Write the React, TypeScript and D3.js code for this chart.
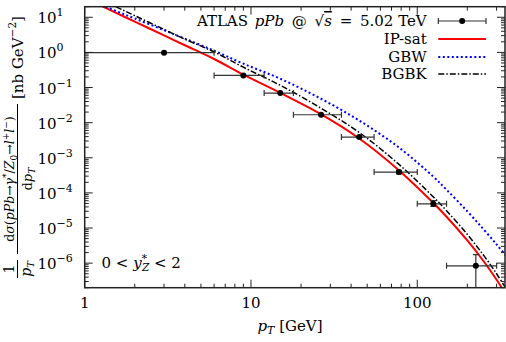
import React from "react";
import * as d3 from "d3";

const W = 506;
const H = 342;
const M = { left: 84.7, right: 505, top: 6.7, bottom: 287.7 };

const xDomain = [1, 337];
const yDomain = [2e-7, 20];

// ATLAS data
const dataPt = [3, 9, 15, 26.4, 44.8, 77.6, 124.8, 225];
const dataY = [0.98, 0.221, 0.0697, 0.0168, 0.00389, 3.91e-4, 4.89e-5, 8.38e-7];
const binLo = [0.5, 6, 12, 18, 35, 55, 100, 150];
const binHi = [6, 12, 18, 35, 55, 100, 150, 300];
const errLo = [0.98, 0.221, 0.0697, 0.0168, 0.0037, 3.5e-4, 4.1e-5, 1e-9];
const errHi = [0.98, 0.221, 0.0697, 0.0168, 0.0041, 4.4e-4, 6.07e-5, 1.74e-6];

// model curves
const curvePt = [1, 1.5, 2, 3, 4, 6, 9, 15, 26, 45, 78, 125, 150, 200, 250, 300, 340];
const ipsat = [35.2, 14.3, 7.5, 3.05, 1.6, 0.649, 0.232, 0.0706, 0.01804, 0.00348, 4.29e-4, 5.16e-5, 2.1e-5, 4.43e-6, 1.15e-6, 3.37e-7, 1.33e-7];
const gbw = [35.0, 15.9, 9.25, 4.29, 2.46, 1.12, 0.477, 0.178, 0.0496, 0.0113, 0.00193, 2.88e-4, 1.23e-4, 2.99e-5, 9.25e-6, 3.41e-6, 1.67e-6];
const bgbk = [52.2, 21.1, 11.1, 4.52, 2.38, 1.03, 0.379, 0.116, 0.0268, 0.00516, 6.36e-4, 7.64e-5, 3.11e-5, 6.57e-6, 1.7e-6, 4.99e-7, 1.98e-7];

const xMajor = [1, 10, 100];
const xMajorLabels = ["1", "10", "100"];
const yExps = [1, 0, -1, -2, -3, -4, -5, -6];

const FONT = "'DejaVu Serif', serif";

export default function App() {
  const x = d3.scaleLog().domain(xDomain).range([M.left, M.right]);
  const y = d3.scaleLog().domain(yDomain).range([M.bottom, M.top]);

  const mk = (vals: number[]) =>
    d3
      .line<number>()
      .x((_, i) => x(curvePt[i]))
      .y((d) => y(d))
      .curve(d3.curveCatmullRom.alpha(0.5))(vals) || "";

  // ticks
  const xTicks: { v: number; major: boolean }[] = [];
  for (let d = 0; d <= 2; d++) {
    for (let k = 1; k <= 9; k++) {
      const v = k * Math.pow(10, d);
      if (v >= xDomain[0] && v <= xDomain[1]) xTicks.push({ v, major: k === 1 });
    }
  }
  const yTicks: { v: number; major: boolean }[] = [];
  for (let d = -7; d <= 1; d++) {
    for (let k = 1; k <= 9; k++) {
      const v = k * Math.pow(10, d);
      if (v >= yDomain[0] && v <= yDomain[1]) yTicks.push({ v, major: k === 1 });
    }
  }

  const frame = "#222";
  const errC = "#333";
  const cap = 3;

  const legendRows = [21, 39, 57, 74];
  const lx0 = 438.3;
  const lx1 = 486;
  const ltx = 426.7;

  return (
    <svg
      width={W}
      height={H}
      style={{ position: "absolute", left: 0, top: 0, background: "#fff" }}
      fontFamily={FONT}
    >
      <defs>
        <clipPath id="plotclip">
          <rect x={M.left} y={M.top} width={M.right - M.left} height={M.bottom - M.top} />
        </clipPath>
      </defs>
      <rect x={0} y={0} width={W} height={H} fill="#fff" />

      {/* curves */}
      <g clipPath="url(#plotclip)" fill="none">
        <path d={mk(ipsat)} stroke="#ff0000" strokeWidth={2} />
        <path d={mk(gbw)} stroke="#0000ff" strokeWidth={2} strokeDasharray="2,2.5" />
        <path d={mk(bgbk)} stroke="#000" strokeWidth={1.5} strokeDasharray="6,2,1.5,2" />
      </g>

      {/* data */}
      <g clipPath="url(#plotclip)">
        {dataPt.map((p, i) => {
          const cx = x(p);
          const cy = y(dataY[i]);
          const xl = x(binLo[i]);
          const xh = x(binHi[i]);
          const yl = y(errLo[i]);
          const yh = y(errHi[i]);
          return (
            <g key={i} stroke={errC} strokeWidth={1.2}>
              <line x1={xl} x2={xh} y1={cy} y2={cy} />
              <line x1={xl} x2={xl} y1={cy - cap} y2={cy + cap} />
              <line x1={xh} x2={xh} y1={cy - cap} y2={cy + cap} />
              {Math.abs(yl - yh) > 1 && (
                <>
                  <line x1={cx} x2={cx} y1={yl} y2={yh} />
                  <line x1={cx - cap} x2={cx + cap} y1={yl} y2={yl} />
                  <line x1={cx - cap} x2={cx + cap} y1={yh} y2={yh} />
                </>
              )}
              <circle cx={cx} cy={cy} r={3} fill="#000" stroke="none" />
            </g>
          );
        })}
      </g>

      {/* ticks */}
      <g stroke={frame} strokeWidth={1}>
        {xTicks.map((t, i) => {
          const px = x(t.v);
          const L = t.major ? 8 : 4;
          return (
            <g key={"xt" + i}>
              <line x1={px} x2={px} y1={M.bottom} y2={M.bottom - L} />
              <line x1={px} x2={px} y1={M.top} y2={M.top + L} />
            </g>
          );
        })}
        {yTicks.map((t, i) => {
          const py = y(t.v);
          const L = t.major ? 8 : 4;
          return (
            <g key={"yt" + i}>
              <line x1={M.left} x2={M.left + L} y1={py} y2={py} />
              <line x1={M.right} x2={M.right - L} y1={py} y2={py} />
            </g>
          );
        })}
      </g>

      {/* frame */}
      <rect
        x={M.left}
        y={M.top}
        width={M.right - M.left}
        height={M.bottom - M.top}
        fill="none"
        stroke={frame}
        strokeWidth={1.5}
      />

      {/* x tick labels */}
      <g fontSize={15} textAnchor="middle" fill="#000">
        {xMajor.map((v, i) => (
          <text key={"xl" + i} x={x(v)} y={308}>
            {xMajorLabels[i]}
          </text>
        ))}
      </g>

      {/* y tick labels */}
      <g fontSize={15} fill="#000">
        {yExps.map((e) => {
          const py = y(Math.pow(10, e));
          return (
            <text key={"yl" + e} x={37.5} y={py + 6}>
              10
              <tspan dy={-7} fontSize={11}>
                {e < 0 ? "\u2212" + Math.abs(e) : String(e)}
              </tspan>
            </text>
          );
        })}
      </g>

      {/* x axis title */}
      <text x={290} y={331} fontSize={15} textAnchor="middle" fill="#000">
        <tspan fontStyle="italic">p</tspan>
        <tspan fontStyle="italic" fontSize={11} dy={3}>T</tspan>
        <tspan dy={-3}> [GeV]</tspan>
      </text>

      {/* y axis title */}
      <g transform={`translate(2.5,${H}) rotate(-90)`} fill="#000">
        <text x={73} y={11} fontSize={14} textAnchor="middle">1</text>
        <line x1={64} x2={82} y1={15} y2={15} stroke="#000" strokeWidth={1} />
        <text x={73} y={28.5} fontSize={14} textAnchor="middle">
          <tspan fontStyle="italic">p</tspan>
          <tspan fontStyle="italic" fontSize={10} dy={3}>T</tspan>
        </text>
        <text x={163} y={11} fontSize={12.5} textAnchor="middle">
          <tspan>d</tspan>
          <tspan fontStyle="italic">σ</tspan>
          <tspan>(</tspan>
          <tspan fontStyle="italic">pPb</tspan>
          <tspan>→</tspan>
          <tspan fontStyle="italic">γ</tspan>
          <tspan fontSize={9} dy={-5}>*</tspan>
          <tspan dy={5}>/</tspan>
          <tspan fontStyle="italic">Z</tspan>
          <tspan fontSize={9} dy={3}>0</tspan>
          <tspan dy={-3}>→</tspan>
          <tspan fontStyle="italic">l</tspan>
          <tspan fontSize={9} dy={-5}>+</tspan>
          <tspan fontStyle="italic" dy={5}>l</tspan>
          <tspan fontSize={9} dy={-5}>−</tspan>
          <tspan dy={5}>)</tspan>
        </text>
        <line x1={88} x2={238} y1={15} y2={15} stroke="#000" strokeWidth={1} />
        <text x={163} y={29.5} fontSize={13} textAnchor="middle">
          <tspan>d</tspan>
          <tspan fontStyle="italic">p</tspan>
          <tspan fontStyle="italic" fontSize={9.5} dy={3}>T</tspan>
        </text>
        <text x={243} y={20.5} fontSize={15}>
          <tspan>[nb  GeV</tspan>
          <tspan fontSize={10.5} dy={-7}>−2</tspan>
          <tspan dy={7}>]</tspan>
        </text>
      </g>

      {/* rapidity label */}
      <text x={101.5} y={268} fontSize={15} fill="#000">
        <tspan>0 &lt; </tspan>
        <tspan fontStyle="italic">y</tspan>
        <tspan fontSize={10.5} dy={-6}>*</tspan>
        <tspan fontSize={10.5} fontStyle="italic" dx={-5} dy={9}>Z</tspan>
        <tspan dy={-3}> &lt; 2</tspan>
      </text>

      {/* legend */}
      <g fontSize={15} fill="#000" textAnchor="end">
        <text x={ltx} y={legendRows[0] + 5}>
          <tspan>ATLAS </tspan>
          <tspan fontStyle="italic" dx={2}>pPb</tspan>
          <tspan dx={3}> @ </tspan>
          <tspan dx={3}>√</tspan>
          <tspan fontStyle="italic" style={{ textDecoration: "overline" }}>s</tspan>
          <tspan dx={3}> = </tspan>
          <tspan dx={3}>5.02 TeV</tspan>
        </text>
        <text x={ltx} y={legendRows[1] + 5}>IP-sat</text>
        <text x={ltx} y={legendRows[2] + 5}>GBW</text>
        <text x={ltx} y={legendRows[3] + 5}>BGBK</text>
      </g>
      <g stroke={errC} strokeWidth={1.2}>
        <line x1={lx0} x2={lx1} y1={legendRows[0]} y2={legendRows[0]} />
        <line x1={lx0} x2={lx0} y1={legendRows[0] - cap} y2={legendRows[0] + cap} />
        <line x1={lx1} x2={lx1} y1={legendRows[0] - cap} y2={legendRows[0] + cap} />
        <circle cx={(lx0 + lx1) / 2} cy={legendRows[0]} r={3} fill="#000" stroke="none" />
      </g>
      <line x1={lx0} x2={lx1} y1={legendRows[1]} y2={legendRows[1]} stroke="#ff0000" strokeWidth={2} />
      <line x1={lx0} x2={lx1} y1={legendRows[2]} y2={legendRows[2]} stroke="#0000ff" strokeWidth={2} strokeDasharray="2,2.5" />
      <line x1={lx0} x2={lx1} y1={legendRows[3]} y2={legendRows[3]} stroke="#000" strokeWidth={1.5} strokeDasharray="6,2,1.5,2" />
    </svg>
  );
}
